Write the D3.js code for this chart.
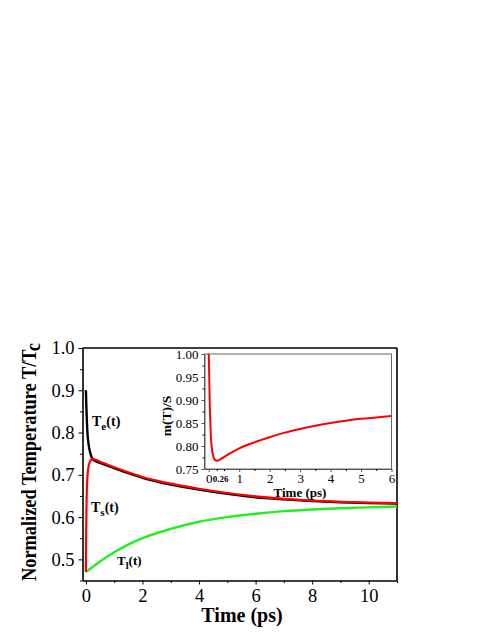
<!DOCTYPE html>
<html><head><meta charset="utf-8">
<script src="https://cdn.jsdelivr.net/npm/d3@7"></script>
<style>body{margin:0;background:#fff}svg{display:block}text{font-family:"Liberation Serif","Times New Roman",serif}</style>
</head><body>
<svg id="c" width="491" height="635"></svg>
<script>
// Main chart data
const teTime = [0, 0.01, 0.03, 0.05, 0.08, 0.12, 0.17, 0.22, 0.3, 0.5, 1, 1.5, 2, 3, 4, 5, 6, 7, 8, 9, 10, 11];
const teValues = [0.90, 0.875, 0.835, 0.805, 0.78, 0.762, 0.748, 0.739, 0.734, 0.728, 0.716, 0.704, 0.693, 0.677, 0.665, 0.655, 0.647, 0.642, 0.638, 0.635, 0.633, 0.632];
const tsTime = [0, 0.005, 0.01, 0.02, 0.03, 0.05, 0.07, 0.1, 0.15, 0.2, 0.26, 0.5, 1, 1.5, 2, 3, 4, 5, 6, 7, 8, 9, 10, 11];
const tsValues = [0.47, 0.52, 0.565, 0.62, 0.655, 0.69, 0.708, 0.722, 0.732, 0.736, 0.737, 0.731, 0.718, 0.706, 0.695, 0.679, 0.667, 0.657, 0.649, 0.643, 0.639, 0.636, 0.634, 0.633];
const tlTime = [0, 0.5, 1, 1.5, 2, 3, 4, 5, 6, 7, 8, 9, 10, 11];
const tlValues = [0.47, 0.495, 0.517, 0.535, 0.55, 0.572, 0.589, 0.6, 0.608, 0.614, 0.618, 0.621, 0.623, 0.625];
const mainXTicks = [0, 2, 4, 6, 8, 10];
const mainYTicks = [0.5, 0.6, 0.7, 0.8, 0.9, 1.0];
// Inset data
const insetTime = [0, 0.01, 0.02, 0.03, 0.05, 0.065, 0.08, 0.11, 0.15, 0.2, 0.26, 0.4, 0.6, 1, 1.5, 2, 2.5, 3, 3.5, 4, 4.5, 5, 5.5, 6];
const insetValues = [1.0, 0.97, 0.935, 0.9, 0.855, 0.828, 0.81, 0.791, 0.777, 0.77, 0.768, 0.772, 0.78, 0.795, 0.808, 0.819, 0.829, 0.837, 0.844, 0.850, 0.855, 0.859, 0.862, 0.865];
const insetXTicks = [0, 1, 2, 3, 4, 5, 6];
const insetYTicks = [0.75, 0.80, 0.85, 0.90, 0.95, 1.00];

const svg = d3.select("#c");

// ---------- main ----------
const L = 82.5, R = 397, T = 348, B = 580.5;
const x = d3.scaleLinear().domain([-0.12, 11]).range([L, R]);
const y = d3.scaleLinear().domain([0.45, 1.0]).range([B, T]);

const gx = svg.append("g").attr("transform", `translate(0,${B})`)
  .call(d3.axisBottom(x).tickValues(mainXTicks).tickFormat(d3.format("d")).tickSizeInner(4).tickSizeOuter(0).tickPadding(4));
const gy = svg.append("g").attr("transform", `translate(${L},0)`)
  .call(d3.axisLeft(y).tickValues(mainYTicks).tickFormat(d3.format(".1f")).tickSizeInner(4).tickSizeOuter(0).tickPadding(4));
// minor ticks
svg.append("g").attr("transform", `translate(0,${B})`)
  .call(d3.axisBottom(x).tickValues([1,3,5,7,9,11]).tickFormat("").tickSizeInner(2.5).tickSizeOuter(0)).select(".domain").remove();
svg.append("g").attr("transform", `translate(${L},0)`)
  .call(d3.axisLeft(y).tickValues([0.45,0.55,0.65,0.75,0.85,0.95]).tickFormat("").tickSizeInner(2.5).tickSizeOuter(0)).select(".domain").remove();
[gx, gy].forEach(g => {
  g.selectAll("text").style("font-size", "18.5px").attr("fill", "#000");
  g.select(".domain").attr("stroke-width", 1.6);
});
// top & right frame
svg.append("line").attr("x1", L).attr("x2", R).attr("y1", T).attr("y2", T).attr("stroke", "#000").attr("stroke-width", 1.6);
svg.append("line").attr("x1", R).attr("x2", R).attr("y1", T).attr("y2", B).attr("stroke", "#000").attr("stroke-width", 1.6);

svg.append("clipPath").attr("id", "cm").append("rect")
  .attr("x", L).attr("y", T).attr("width", R - L).attr("height", B - T);

const lineMain = d3.line().x(d => x(d[0])).y(d => y(d[1])).curve(d3.curveMonotoneX);
const zip = (a, b) => a.map((v, i) => [v, b[i]]);
const gm = svg.append("g").attr("clip-path", "url(#cm)");
gm.append("path").attr("d", lineMain(zip(tlTime, tlValues))).attr("fill", "none").attr("stroke", "#22ee22").attr("stroke-width", 2.4);
gm.append("path").attr("d", lineMain(zip(teTime, teValues))).attr("fill", "none").attr("stroke", "#000").attr("stroke-width", 2.4);
gm.append("path").attr("d", lineMain(zip(tsTime, tsValues))).attr("fill", "none").attr("stroke", "#ff0000").attr("stroke-width", 2.2);

// curve labels
function subLabel(xp, yp, main, sub, fs) {
  const t = svg.append("text").attr("x", xp).attr("y", yp).attr("font-weight", "bold").attr("font-size", fs + "px").attr("fill", "#000");
  t.append("tspan").text(main);
  t.append("tspan").text(sub).attr("dy", fs * 0.3).attr("font-size", (fs * 0.8) + "px");
  t.append("tspan").text("(t)").attr("dy", -fs * 0.3);
}
subLabel(92, 426, "T", "e", 14);
subLabel(91, 512, "T", "s", 14);
subLabel(117, 565, "T", "l", 13);

// axis titles
svg.append("text").attr("x", 242).attr("y", 622).attr("text-anchor", "middle")
  .attr("font-weight", "bold").attr("font-size", "20px").text("Time (ps)");
const yt = svg.append("text").attr("transform", "translate(36,462) rotate(-90)").attr("text-anchor", "middle")
  .attr("font-weight", "bold").attr("font-size", "20px")
  .attr("textLength", 238).attr("lengthAdjust", "spacingAndGlyphs");
yt.append("tspan").text("Normalized Temperature T/T");
yt.append("tspan").text("c").attr("dy", 4);

// ---------- inset ----------
const iL = 204.5, iR = 391.5, iT = 354, iB = 469;
const ix = d3.scaleLinear().domain([-0.14, 6]).range([iL, iR]);
const iy = d3.scaleLinear().domain([0.75, 1.0]).range([iB, iT]);
svg.append("rect").attr("x", iL).attr("y", iT).attr("width", iR - iL).attr("height", iB - iT)
  .attr("fill", "#fff").attr("stroke", "#666").attr("stroke-width", 1);

const igx = svg.append("g").attr("transform", `translate(0,${iB})`)
  .call(d3.axisBottom(ix).tickValues(insetXTicks).tickFormat(d3.format("d")).tickSizeInner(3).tickSizeOuter(0).tickPadding(2));
const igy = svg.append("g").attr("transform", `translate(${iL},0)`)
  .call(d3.axisLeft(iy).tickValues(insetYTicks).tickFormat(d3.format(".2f")).tickSizeInner(3).tickSizeOuter(0).tickPadding(3));
svg.append("g").attr("transform", `translate(0,${iB})`)
  .call(d3.axisBottom(ix).tickValues([0.26, 0.5, 1.5, 2.5, 3.5, 4.5, 5.5]).tickFormat("").tickSizeInner(2).tickSizeOuter(0)).select(".domain").remove();
svg.append("g").attr("transform", `translate(${iL},0)`)
  .call(d3.axisLeft(iy).tickValues([0.775, 0.825, 0.875, 0.925, 0.975]).tickFormat("").tickSizeInner(2).tickSizeOuter(0)).select(".domain").remove();
[igx, igy].forEach(g => {
  g.selectAll("text").style("font-size", "13px").attr("fill", "#000");
  g.select(".domain").attr("stroke", "#555");
  g.selectAll(".tick line").attr("stroke", "#555");
});
// 0.26 label
svg.append("text").attr("x", ix(0.26) + 4).attr("y", iB + 13).attr("text-anchor", "middle")
  .attr("font-weight", "bold").attr("font-size", "9px").text("0.26");

svg.append("clipPath").attr("id", "ci").append("rect")
  .attr("x", iL).attr("y", iT).attr("width", iR - iL).attr("height", iB - iT);
const lineI = d3.line().x(d => ix(d[0])).y(d => iy(d[1])).curve(d3.curveMonotoneX);
svg.append("g").attr("clip-path", "url(#ci)").append("path")
  .attr("d", lineI(zip(insetTime, insetValues))).attr("fill", "none").attr("stroke", "#ff0000").attr("stroke-width", 2);

svg.append("text").attr("x", 300).attr("y", 497).attr("text-anchor", "middle")
  .attr("font-weight", "bold").attr("font-size", "13px").text("Time (ps)");
svg.append("text").attr("transform", "translate(171,416) rotate(-90)").attr("text-anchor", "middle")
  .attr("font-weight", "bold").attr("font-size", "13.5px").text("m(T)/S");
</script>
</body></html>
